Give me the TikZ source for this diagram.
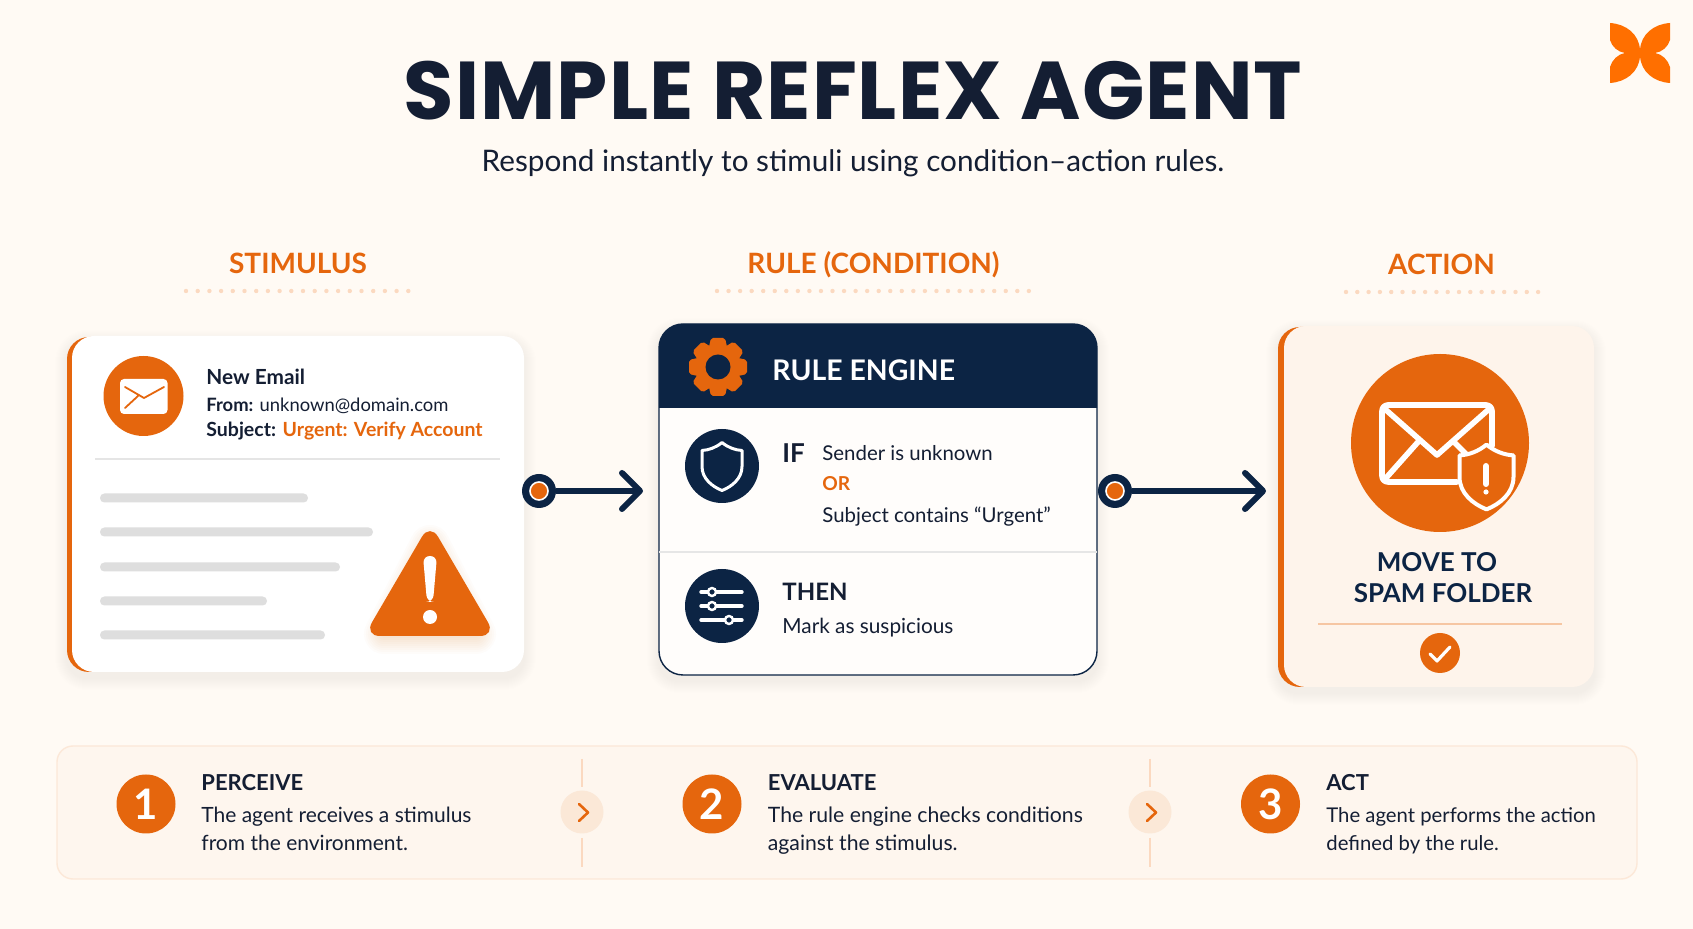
\documentclass[tikz,border=0pt]{standalone}
\usepackage{fontspec}
\usetikzlibrary{arrows.meta}
\setmainfont{Lato}
\newfontfamily\titlefont[LetterSpace=1.3]{Poppins}
\definecolor{pagebg}{HTML}{FFFAF4}
\definecolor{accent}{HTML}{E5660D}
\definecolor{navy}{HTML}{0C2444}
\definecolor{inktext}{HTML}{141E33}
\definecolor{dotcol}{HTML}{FBD9C0}
\definecolor{barcol}{HTML}{DEDEDE}
\definecolor{panelbg}{HTML}{FEF6EE}
\definecolor{logocol}{HTML}{FF6F00}
\tikzset{
  txt/.style={anchor=base west, inner sep=0pt, text=inktext},
  mid/.style={anchor=base, inner sep=0pt},
  section/.style={mid, text=accent, font=\fontsize{14}{16}\selectfont\bfseries},
  small/.style={txt, font=\fontsize{10.2}{12}\selectfont},
  disc/.style={circle, inner sep=0pt, fill=accent, text=white},
  navydisc/.style={circle, inner sep=0pt, fill=navy, minimum size=37pt},
  portring/.style={circle, inner sep=0pt, fill=navy, minimum size=17pt},
  portdot/.style={circle, inner sep=0pt, fill=accent, draw=white, line width=0.8pt, minimum size=9pt},
  flow/.style={draw=navy, line width=3pt, -{Straight Barb[length=9pt,width=18pt,round]}},
  softlayer/.style={fill=black, fill opacity=0.004, draw=none},
}
% shield, centred on #1, #2 = half width
\newcommand{\shieldat}[3]{%
  \draw[shift={(#1)}, x=#2, y=#2, line join=round, #3]
    (0,1.2) .. controls (0.3,0.95) and (0.65,0.82) .. (1,0.8) -- (1,0)
    .. controls (1,-0.6) and (0.5,-1) .. (0,-1.2)
    .. controls (-0.5,-1) and (-1,-0.6) .. (-1,0) -- (-1,0.8)
    .. controls (-0.65,0.82) and (-0.3,0.95) .. (0,1.2) -- cycle;}
% soft shadow under a card
\newcommand{\softshadow}[4]{%
  \foreach \s in {1,...,12}
    \fill[softlayer, rounded corners=10pt+\s*0.5pt]
      (#1-\s,#2-\s+6) rectangle (#3+\s,#4+\s+6);}

\begin{document}
\begin{tikzpicture}[x=0.5pt,y=-0.5pt]
  \useasboundingbox (0,0) rectangle (1693,929);
  \fill[pagebg] (0,0) rectangle (1693,929);

  % logo
  \fill[logocol] (1610,23) .. controls (1626,24) and (1639,34) .. (1640,50)
     .. controls (1641,34) and (1654,24) .. (1670,23) -- (1670,40) .. controls (1668,47) and (1662,52) .. (1655,53)
     .. controls (1662,54) and (1668,60) .. (1670,67) -- (1670,83) .. controls (1654,82) and (1641,72) .. (1640,56)
     .. controls (1639,72) and (1626,82) .. (1610,83) -- (1610,67) .. controls (1612,60) and (1618,54) .. (1625,53)
     .. controls (1618,52) and (1612,47) .. (1610,40) -- cycle;

  % title
  \node[mid, text=inktext, font=\titlefont\fontsize{41}{50}\selectfont\bfseries] (title) at (853,120) {SIMPLE REFLEX AGENT};
  \node[mid, text=inktext, font=\fontsize{14.85}{17}\selectfont] (subtitle) at (853,172) {Respond instantly to stimuli using condition--action rules.};

  % column heads
  \node[section] (headstim) at (298,273.5) {STIMULUS};
  \node[section] (headrule) at (873.5,273.5) {RULE (CONDITION)};
  \node[section] (headact) at (1441.5,274.5) {ACTION};
  \foreach \i in {0,...,19} \fill[dotcol] (186+\i*11.7,291) circle (2.2);
  \foreach \i in {0,...,27} \fill[dotcol] (717+\i*11.55,291) circle (2.2);
  \foreach \i in {0,...,17} \fill[dotcol] (1346+\i*11.3,292) circle (2.2);

  % stimulus card
  \softshadow{67}{336}{524}{672}
  \fill[accent, rounded corners=11pt] (67,337) rectangle (300,672);
  \fill[white, rounded corners=11pt] (72,336) rectangle (524,672);
  \node[disc, minimum size=40pt] (mailbadge) at (143.5,396) {};
  \fill[white, rounded corners=2pt] (120,379) rectangle (167.5,414);
  \draw[accent, line width=0.9pt, line cap=round, line join=round] (125,387) -- (144,398) -- (164,387)
        (125,408) -- (138,396);
  \node[txt, font=\fontsize{10.4}{12}\selectfont\bfseries] (mailname) at (206,385) {New Email};
  \node[small, font=\fontsize{9.2}{12}\selectfont] (mailfrom) at (206,412) {\textbf{From:} unknown@domain.com};
  \node[small, font=\fontsize{9.75}{12}\selectfont] (mailsubj) at (206,437) {\textbf{Subject:} \textcolor{accent}{\textbf{Urgent: Verify Account}}};
  \draw[color=barcol!80, line width=0.8pt] (95,459) -- (500,459);
  % grey lines
  \foreach \y/\r in {498/308,532/373,567/340,601/267,635/325}
    \fill[barcol, rounded corners=2.2pt] (100,\y-4.5) rectangle (\r,\y+4.5);
  % warning sign
  \foreach \s in {1,...,10}
    \draw[accent, draw opacity=0.02, line width=\s*2pt, line join=round] (430,545) -- (476,634) -- (384,634) -- cycle;
  \fill[accent, rounded corners=8pt] (430,523) -- (496,636) -- (364,636) -- cycle;
  \fill[white, rounded corners=3.4pt] (423,556) -- (437,556) -- (433,602) -- (427,602) -- cycle;
  \fill[white] (430,617) circle (7);

  % rule engine card
  \softshadow{659}{324}{1097}{675}
  \fill[color=white!60!pagebg, rounded corners=12pt] (659,324) rectangle (1097,675);
  \begin{scope}
    \clip (650,315) rectangle (1105,408);
    \fill[navy, rounded corners=12pt] (659,324) rectangle (1097,675);
  \end{scope}
  \draw[navy, line width=0.7pt, rounded corners=12pt] (659,324) rectangle (1097,675);
  \draw[color=barcol!75, line width=0.8pt] (659,552) -- (1097,552);
  % gear
  \foreach \a in {0,45,...,315}
    \fill[accent, rotate around={\a:(718,367)}, rounded corners=1pt] (711,367-29) -- (725,367-29) -- (728,367-16) -- (708,367-16) -- cycle;
  \fill[accent] (718,367) circle (22);
  \fill[navy] (718,367) circle (12.5);
  \node[txt, text=white, font=\fontsize{14.2}{16}\selectfont\bfseries] (enginename) at (772,381) {RULE ENGINE};
  % if row
  \node[navydisc] (ifbadge) at (722,466) {};
  \shieldat{722,466.5}{10pt}{draw=white, line width=1.5pt}
  \node[txt, font=\fontsize{13}{16}\selectfont\bfseries] (iflabel) at (782,463) {IF};
  \node[small] (ifone) at (822,460.5) {Sender is unknown};
  \node[small, text=accent, font=\fontsize{9.6}{12}\selectfont\bfseries] (iforword) at (822,490.5) {OR};
  \node[small] (iftwo) at (822,523) {Subject contains “Urgent”};
  % then row
  \node[navydisc] (thenbadge) at (722,606) {};
  \foreach \y/\k in {592/712,606/712,620/729} {
    \draw[white, line width=1.7pt, line cap=round] (701,\y) -- (742,\y);
    \filldraw[fill=navy, draw=white, line width=1.2pt] (\k,\y) circle (4);
  }
  \node[txt, font=\fontsize{12}{16}\selectfont\bfseries] (thenlabel) at (782,600.5) {THEN};
  \node[small, font=\fontsize{10.4}{12}\selectfont] (thenone) at (782,634) {Mark as suspicious};

  % action card
  \softshadow{1278}{326}{1594}{687}
  \fill[accent, rounded corners=11pt] (1278,327) rectangle (1400,687);
  \fill[color=accent!4!pagebg, rounded corners=11pt] (1284,326) rectangle (1594,687);
  \node[disc, minimum size=89pt] (bigbadge) at (1440,443) {};
  \draw[white, line width=2.8pt, line cap=round, line join=round, rounded corners=3pt]
     (1457,482) -- (1382,482) -- (1382,405) -- (1492,405) -- (1492,446);
  \draw[white, line width=2.8pt, line cap=round, line join=round]
     (1386,410) -- (1437,455) -- (1488,410) (1386,478) -- (1418,442) (1454,442) -- (1470,458);
  \shieldat{1486.5,477}{13.5pt}{draw=white, fill=accent, line width=2pt}
  \draw[white, line width=3pt, line cap=round] (1486,466) -- (1486,484);
  \fill[white] (1486,492) circle (2.6);
  \node[mid, text=navy, font=\fontsize{13}{16}\selectfont\bfseries] (actone) at (1437,572) {MOVE TO};
  \node[mid, text=navy, font=\fontsize{13}{16}\selectfont\bfseries] (acttwo) at (1443,603) {SPAM FOLDER};
  \draw[color=accent!35!pagebg, line width=0.8pt] (1318,624) -- (1562,624);
  \node[disc, minimum size=20pt] (donebadge) at (1440,653) {};
  \draw[white, line width=1.6pt, line cap=round, line join=round] (1430,654) -- (1437,661) -- (1450,647);

  % connectors
  \coordinate (ruleIn) at (643,491);
  \coordinate (actIn) at (1266,491);
  \node[portring] (portstim) at (539,491) {};
  \node[portring] (portrule) at (1115,491) {};
  \draw[flow] (portstim) -- (ruleIn);
  \draw[flow] (portrule) -- (actIn);
  \node[portdot] (portstimdot) at (portstim) {};
  \node[portdot] (portruledot) at (portrule) {};

  % bottom strip
  \filldraw[fill=panelbg, draw=accent!12!pagebg, line width=0.7pt, rounded corners=8pt] (57,746) rectangle (1637,879);
  \foreach \n/\cx/\tx/\fs/\head/\la/\lb in {
      1/146/201/10.5/PERCEIVE/The agent receives a stimulus/from the environment.,
      2/712/767.5/10.6/EVALUATE/The rule engine checks conditions/against the stimulus.,
      3/1270.5/1326/10.15/ACT/The agent performs the action/defined by the rule.} {
    \node[disc, minimum size=29.5pt, font=\fontsize{21}{24}\selectfont\bfseries] (badge\n) at (\cx,804) {\n};
    \node[txt, font=\fontsize{11}{13}\selectfont\bfseries] (stephead\n) at (\tx,790.5) {\head};
    \node[small, font=\fontsize{\fs}{13}\selectfont] (stepa\n) at (\tx,823) {\la};
    \node[small, font=\fontsize{\fs}{13}\selectfont] (stepb\n) at (\tx,851) {\lb};
  }
  \foreach \n/\cx in {1/582,2/1150} {
    \draw[dotcol, line width=0.7pt] (\cx,759) -- (\cx,787) (\cx,838) -- (\cx,867);
    \node[circle, fill=accent!10!panelbg, minimum size=21.5pt, inner sep=0pt] (next\n) at (\cx,812) {};
    \draw[accent, line width=1.3pt, line cap=round, line join=round] (\cx-3,804) -- (\cx+6,812.5) -- (\cx-3,821);
  }
\end{tikzpicture}
\end{document}
